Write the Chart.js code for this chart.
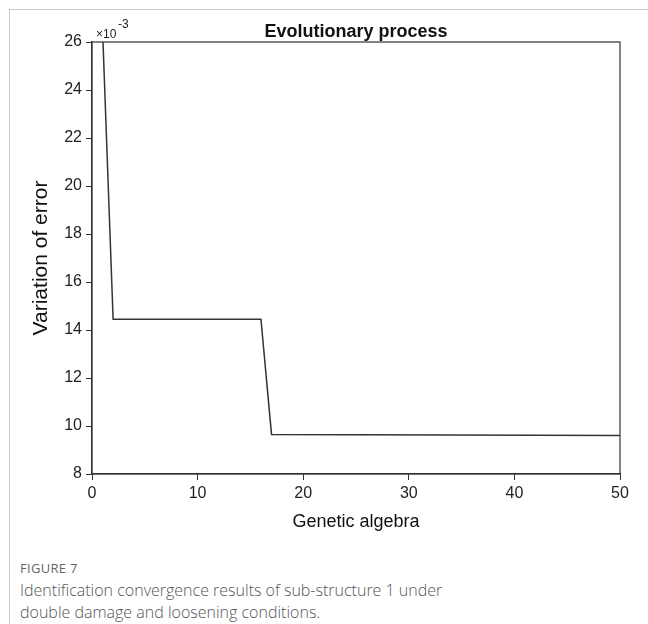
<!DOCTYPE html>
<html>
<head>
<meta charset="utf-8">
<script src="https://cdn.jsdelivr.net/npm/chart.js@4.4.1/dist/chart.umd.min.js"></script>
<style>
  html, body { margin: 0; padding: 0; background: #fff; }
  body { width: 648px; height: 624px; position: relative; overflow: hidden; }
  .card { position: absolute; left: 9px; top: 9px; right: -2px; bottom: -2px; border-top: 1px solid #c8c8c8; border-left: 1px solid #c8c8c8; }
  #wrap { position: absolute; left: 0; top: 0; width: 648px; height: 540px; }
  .fig { position: absolute; left: 20px; top: 559px; font-family: "Open Sans", sans-serif; font-size: 13px; color: #666; letter-spacing: 0.3px; }
  .cap { position: absolute; left: 20px; top: 579px; font-family: "Open Sans", sans-serif; font-size: 16px; line-height: 22px; color: #555; font-weight: 300; }
</style>
</head>
<body>
<div class="card"></div>
<div id="wrap"><canvas id="conv"></canvas></div>
<div class="fig">FIGURE 7</div>
<div class="cap">Identification convergence results of sub-structure 1 under<br>double damage and loosening conditions.</div>
<script>
// corner points of the convergence curve (error in units of 1e-3)
const generations = [1, 2, 16, 17, 25, 34, 42, 50];
const errorValues = [26.5, 14.45, 14.45, 9.65, 9.64, 9.62, 9.61, 9.6];
const xTicks = [0, 10, 20, 30, 40, 50];
const yTicks = [8, 10, 12, 14, 16, 18, 20, 22, 24, 26];

const axisFont = "'Liberation Sans', Arial, sans-serif";

const frame = {
    id: 'frame',
    afterDraw(chart) {
        const { ctx, chartArea: a } = chart;
        ctx.save();
        ctx.strokeStyle = '#333';
        ctx.lineWidth = 1.2;
        ctx.strokeRect(a.left, a.top, a.right - a.left, a.bottom - a.top);
        ctx.fillStyle = '#111';
        ctx.textBaseline = 'alphabetic';
        ctx.textAlign = 'center';
        ctx.font = "bold 18px " + axisFont;
        ctx.fillText('Evolutionary process', (a.left + a.right) / 2, 37);
        ctx.textAlign = 'left';
        ctx.fillStyle = '#222';
        ctx.font = "12px " + axisFont;
        ctx.fillText('\u00d710', a.left + 4, 38);
        ctx.fillText('-3', a.left + 26, 28);
        ctx.restore();
    }
};

new Chart(document.getElementById('conv'), {
    type: 'line',
    data: {
        datasets: [{
            data: generations.map((g, i) => ({ x: g, y: errorValues[i] })),
            borderColor: '#333',
            borderWidth: 1.5,
            pointRadius: 0,
            tension: 0,
            fill: false,
        }]
    },
    options: {
        responsive: true,
        maintainAspectRatio: false,
        animation: false,
        layout: { padding: { left: 0, top: 42, right: 28, bottom: 0 } },
        scales: {
            x: {
                type: 'linear',
                min: 0,
                max: 50,
                afterBuildTicks: (s) => { s.ticks = xTicks.map(v => ({ value: v })); },
                afterFit: (s) => { s.height = 66; },
                grid: { drawOnChartArea: false, tickLength: 6, color: '#333' },
                border: { color: '#333', width: 1.2 },
                ticks: { color: '#222', font: { family: axisFont, size: 16 }, padding: 4 },
                title: { display: true, text: 'Genetic algebra', color: '#111', font: { family: axisFont, size: 18 }, padding: { bottom: 7 } },
            },
            y: {
                min: 8,
                max: 26,
                afterBuildTicks: (s) => { s.ticks = yTicks.map(v => ({ value: v })); },
                afterFit: (s) => { s.width = 92; },
                grid: { drawOnChartArea: false, tickLength: 6, color: '#333' },
                border: { color: '#333', width: 1.2 },
                ticks: { color: '#222', font: { family: axisFont, size: 16 }, padding: 4 },
                title: { display: true, text: 'Variation of error', color: '#111', font: { family: axisFont, size: 21 }, padding: { top: 29 } },
            },
        },
        plugins: {
            legend: { display: false },
            tooltip: { enabled: false },
        }
    },
    plugins: [frame]
});
</script>
</body>
</html>
